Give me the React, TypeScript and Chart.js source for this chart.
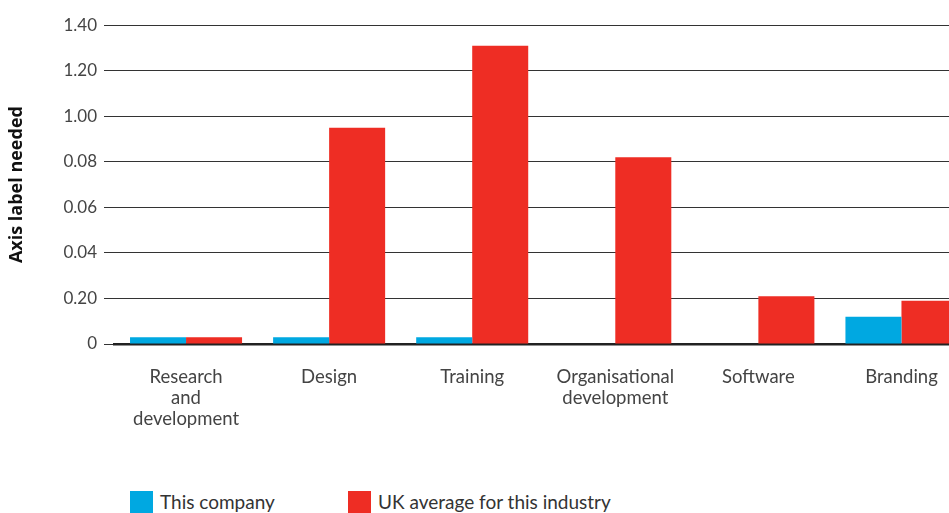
import React, { useEffect, useLayoutEffect, useRef } from "react";
import { Chart, registerables } from "chart.js";
Chart.register(...registerables);

const categories: (string | string[])[] = [
  ["Research", "and", "development"],
  "Design",
  "Training",
  ["Organisational", "development"],
  "Software",
  "Branding",
];
const thisCompany = [0.03, 0.03, 0.03, 0, 0, 0.12];
const ukAverage = [0.03, 0.95, 1.31, 0.82, 0.21, 0.19];
const yTickLabels = ["0", "0.20", "0.04", "0.06", "0.08", "1.00", "1.20", "1.40"];
const seriesNames = ["This company", "UK average for this industry"];
const seriesColors = ["#00A8E1", "#EE2D24"];
const yTitle = "Axis label needed";

const FONT = "Lato, 'Open Sans', sans-serif";

export default function App() {
  const ref = useRef<HTMLCanvasElement | null>(null);
  useLayoutEffect(() => {
    document.body.style.margin = "0";
    document.body.style.overflow = "hidden";
    document.documentElement.style.overflow = "hidden";
  }, []);
  useEffect(() => {
    if (!ref.current) return;
    const chart = new Chart(ref.current, {
      type: "bar",
      data: {
        labels: categories,
        datasets: [
          {
            label: seriesNames[0],
            data: thisCompany,
            backgroundColor: seriesColors[0],
            barPercentage: 1,
            categoryPercentage: 0.783,
          },
          {
            label: seriesNames[1],
            data: ukAverage,
            backgroundColor: seriesColors[1],
            barPercentage: 1,
            categoryPercentage: 0.783,
          },
        ],
      },
      options: {
        animation: false,
        responsive: true,
        maintainAspectRatio: false,
        layout: { padding: { top: 17, bottom: 25, left: 0, right: 0 } },
        plugins: { legend: { display: false }, tooltip: { enabled: false } },
        scales: {
          x: {
            grid: { display: false, drawTicks: false },
            border: { display: true, color: "#222", width: 2.5 },
            ticks: {
              color: "#444",
              font: { family: FONT, size: 18.5, lineHeight: 1.135 },
              padding: 23,
              maxRotation: 0,
              autoSkip: false,
            },
          },
          y: {
            min: 0,
            max: 1.4,
            afterFit: (s: any) => {
              s.width = 106.5;
            },
            border: { display: false },
            grid: { color: "#333", lineWidth: 1, drawTicks: true, tickLength: 10.5 },
            ticks: {
              stepSize: 0.2,
              color: "#444",
              padding: 7,
              font: { family: FONT, size: 17 },
              callback: (_v: any, i: number) => yTickLabels[i],
            },
            title: {
              display: true,
              text: yTitle,
              color: "#111",
              font: { family: "'Open Sans', sans-serif", size: 18, weight: "bold", lineHeight: 1.0 },
              padding: { top: 0, bottom: 0 },
            },
          },
        },
      },
    });
    return () => chart.destroy();
  }, []);

  return (
    <div style={{ width: 949, height: 513, position: "relative", overflow: "hidden", background: "#fff" }}>
      <div style={{ position: "absolute", left: 8, top: 8, width: 965, height: 470 }}>
        <canvas ref={ref} />
      </div>
      <div
        style={{
          position: "absolute",
          top: 491,
          left: 130,
          display: "flex",
          alignItems: "center",
          fontFamily: FONT,
          fontSize: 19,
          lineHeight: "22px",
          color: "#333",
        }}
      >
        {seriesNames.map((n, i) => (
          <div key={n} style={{ display: "flex", alignItems: "center", width: i === 0 ? 218 : "auto" }}>
            <span style={{ display: "inline-block", width: 23, height: 22, background: seriesColors[i], marginRight: 7 }} />
            <span>{n}</span>
          </div>
        ))}
      </div>
    </div>
  );
}
